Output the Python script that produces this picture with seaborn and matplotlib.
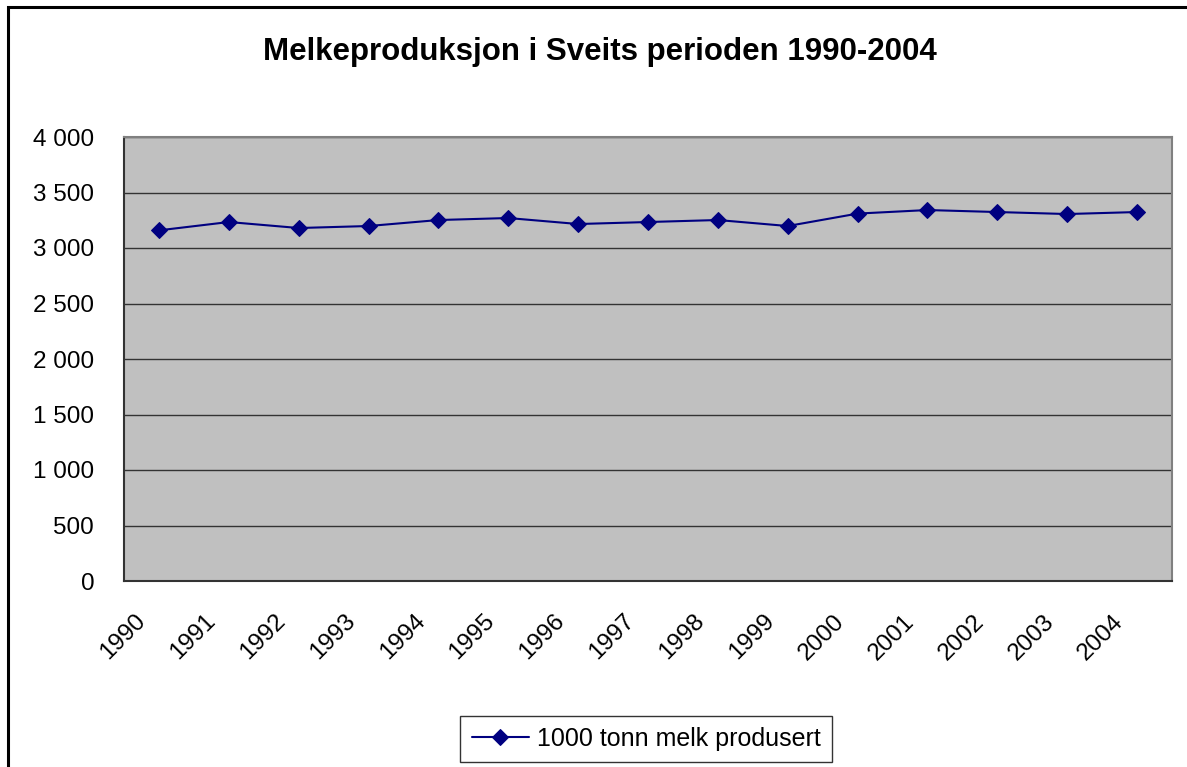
import numpy as np
import pandas as pd
import matplotlib
matplotlib.use("Agg")
import matplotlib.pyplot as plt
import matplotlib.transforms as mtransforms
from matplotlib.patches import Rectangle
from matplotlib.ticker import FuncFormatter, FixedLocator
import seaborn as sns

# data
years = ["1990", "1991", "1992", "1993", "1994", "1995", "1996", "1997",
         "1998", "1999", "2000", "2001", "2002", "2003", "2004"]
milk = [3159, 3234, 3180, 3198, 3252, 3270, 3216, 3234,
        3252, 3198, 3310, 3342, 3324, 3306, 3324]
series_name = "1000 tonn melk produsert"
title = "Melkeproduksjon i Sveits perioden 1990-2004"
y_ticks = [0, 500, 1000, 1500, 2000, 2500, 3000, 3500, 4000]

df = pd.DataFrame({"pos": np.arange(len(years)), "value": milk, "series": series_name})

sns.set_style("white")
plt.rcParams["font.family"] = ["Liberation Sans", "DejaVu Sans"]
plt.rcParams["text.color"] = "black"
plt.rcParams["xtick.color"] = "black"
plt.rcParams["ytick.color"] = "black"

fig = plt.figure(figsize=(11.87, 7.67), dpi=100)
ax = fig.add_axes([124 / 1187, 1 - 581 / 767, (1172 - 124) / 1187, (581 - 137) / 767])
ax.set_facecolor("#c0c0c0")

sns.lineplot(data=df, x="pos", y="value", hue="series", palette=["#000080"],
             marker="D", markersize=8, markeredgecolor="#000080",
             linewidth=1.5, ax=ax)

# category axis: labels centred, tick marks on boundaries
ax.set_xlim(-0.5, len(years) - 0.5)
ax.set_xticks(np.arange(len(years)))
ax.set_xticklabels(years, rotation=45, ha="right", fontsize=17.5)
ax.xaxis.set_minor_locator(FixedLocator(np.arange(-0.5, len(years), 1)))
ax.tick_params(axis="x", which="major", length=0, pad=21)
ax.tick_params(axis="x", which="minor", length=6.5, width=1, color="#333333", direction="out")
offset = mtransforms.ScaledTranslation(-9 / 100, 0, fig.dpi_scale_trans)
for lbl in ax.get_xticklabels():
    lbl.set_transform(lbl.get_transform() + offset)

ax.set_ylim(0, 4000)
ax.set_yticks(y_ticks)
ax.yaxis.set_major_formatter(FuncFormatter(lambda v, _: f"{int(v):,}".replace(",", " ")))
ax.tick_params(axis="y", length=6.5, width=1, color="#333333", direction="out",
               labelsize=17.5, pad=15)
ax.grid(axis="y", color="#333333", linewidth=1)
ax.set_axisbelow(True)

for side in ["top", "right"]:
    ax.spines[side].set_color("#808080")
    ax.spines[side].set_linewidth(1.5)
for side in ["left", "bottom"]:
    ax.spines[side].set_color("#333333")
    ax.spines[side].set_linewidth(1.5)

ax.set_xlabel("")
ax.set_ylabel("")

fig.text(600 / 1187, 1 - 52 / 767, title, ha="center", va="center",
         fontsize=22.5, fontweight="bold")

handles, labels = ax.get_legend_handles_labels()
ax.legend(handles, labels, loc="center", bbox_to_anchor=(646 / 1187, 1 - 739 / 767),
          bbox_transform=fig.transFigure, frameon=True, fancybox=False,
          edgecolor="black", fontsize=18, handlelength=2.3, borderpad=0.45,
          handletextpad=0.3)
ax.get_legend().get_frame().set_linewidth(1)

# outer chart border (cut off on right and bottom)
fig.patches.append(Rectangle((8 / 1187, -0.05), 1.2, 1 - 7 / 767 + 0.05,
                             transform=fig.transFigure, fill=False,
                             edgecolor="black", linewidth=2.2))

fig.savefig("out.png", dpi=100)
